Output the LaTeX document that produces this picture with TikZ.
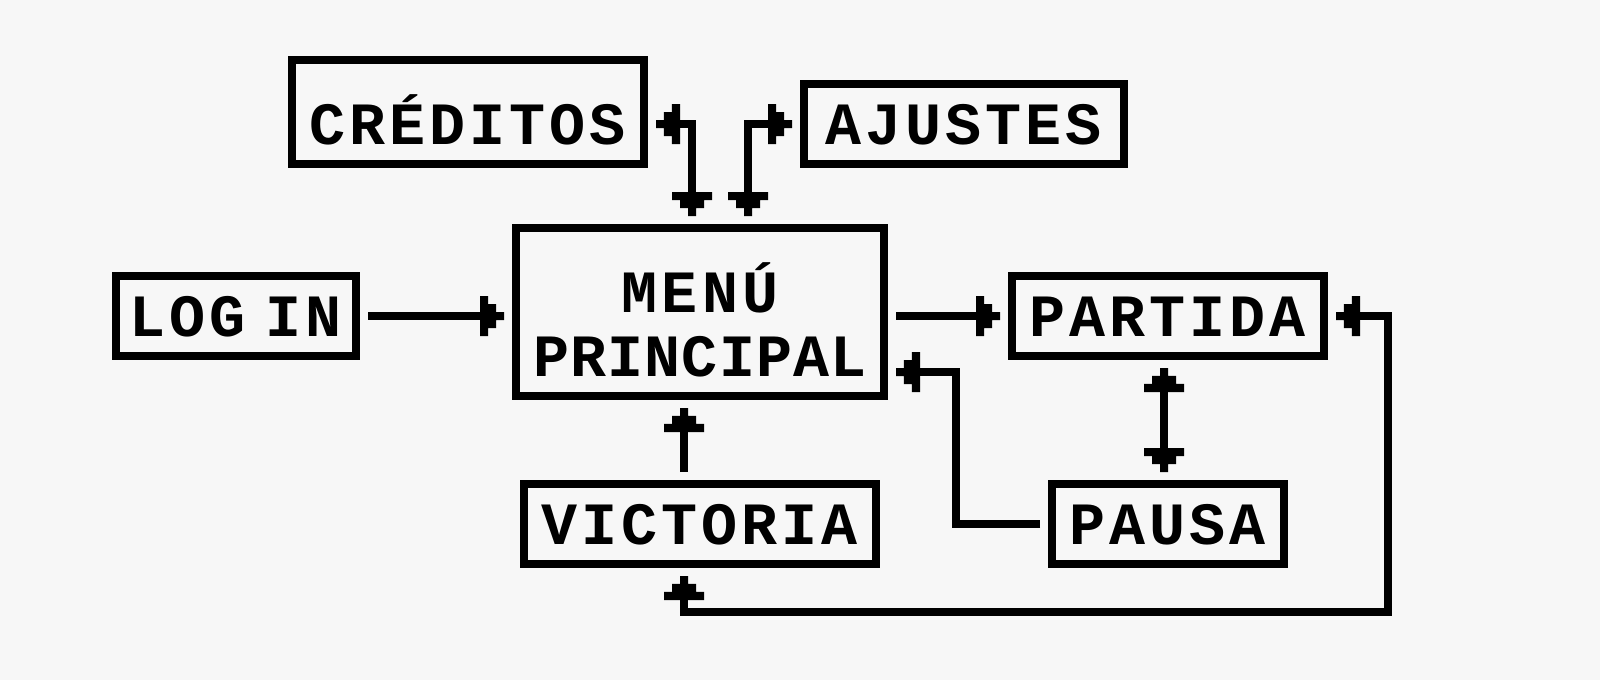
\documentclass[tikz,border=0pt]{standalone}
\usepackage{fontspec}
\newfontfamily\pixfont[LetterSpace=6.7]{Liberation Mono}
\usetikzlibrary{arrows.meta}
\definecolor{bgc}{HTML}{F7F7F7}
\newlength\capht
\setlength\capht{20pt}
\newdimen\pixp
\newcommand\boxtxt[2][0pt]{\raisebox{\dimexpr-0.5\capht+#1\relax}[0pt][0pt]{#2}}

\pgfdeclarearrow{
  name = Pix,
  setup code = {
    \pixp=\pgflinewidth
    \pgfarrowssettipend{0pt}
    \pgfarrowssetlineend{-1.5\pixp}
    \pgfarrowssetvisualbackend{-3\pixp}
    \pgfarrowssetbackend{-3\pixp}
    \pgfarrowshullpoint{0pt}{0pt}
    \pgfarrowshullpoint{-3\pixp}{2.5\pixp}
    \pgfarrowshullpoint{-3\pixp}{-2.5\pixp}
    \pgfarrowssavethe\pixp
  },
  drawing code = {
    \pgfpathrectangle{\pgfqpoint{-3\pixp}{-2.5\pixp}}{\pgfqpoint{1.02\pixp}{5\pixp}}
    \pgfpathrectangle{\pgfqpoint{-2\pixp}{-1.5\pixp}}{\pgfqpoint{1.02\pixp}{3\pixp}}
    \pgfpathrectangle{\pgfqpoint{-1\pixp}{-.5\pixp}}{\pgfqpoint{1\pixp}{1\pixp}}
    \pgfusepathqfill
  },
}

\tikzset{
  pixbox/.style={draw=black, line width=4pt, inner sep=0pt, outer sep=2pt,
    font=\pixfont\bfseries\fontsize{30}{32}\selectfont, minimum height=40pt},
  conn/.style={draw=black, line width=4pt, line cap=butt, line join=miter,
    shorten <=4pt, shorten >=4pt},
}

\begin{document}
\begin{tikzpicture}[x=0.5pt, y=-0.5pt]
\fill[bgc] (0,0) rectangle (1600,680);
\useasboundingbox (0,0) rectangle (1600,680);

% boxes
\node[pixbox, minimum width=176pt, minimum height=52pt] (cred) at (468,112)
  {\boxtxt[-6pt]{CRÉDITOS}};
\node[pixbox, minimum width=160pt] (ajus) at (964,124) {\boxtxt{AJUSTES}};
\node[pixbox, minimum width=120pt] (login) at (236,316) {\boxtxt{LOG\hspace{-10pt} IN}};
\node[pixbox, minimum width=184pt, minimum height=84pt] (menu) at (700,312)
  {\raisebox{-32pt}[0pt][0pt]{\begin{tabular}[b]{@{}c@{}}MENÚ\\{\addfontfeature{LetterSpace=2}PRINCIPAL}\end{tabular}}};
\node[pixbox, minimum width=156pt] (partida) at (1168,316) {\boxtxt{PARTIDA}};
\node[pixbox, minimum width=176pt] (vic) at (700,524) {\boxtxt{VICTORIA}};
\node[pixbox, minimum width=116pt] (pausa) at (1168,524) {\boxtxt{PAUSA}};

% helper corners
\coordinate (pc) at (956,372);
\coordinate (lc) at (1388,612);

% connectors
\draw[conn, -Pix] (login.east) -- (menu.west |- login.east);
\draw[conn, -Pix] (menu.east |- partida.west) -- (partida.west);
\draw[conn, -Pix] (pausa.west) -| (pc) -- (menu.east |- pc);
\draw[conn, Pix-Pix] ([xshift=-2pt]partida.south) -- ([xshift=-2pt]pausa.north);
\draw[conn, -Pix] ([xshift=-8pt]vic.north) -- ([xshift=-8pt]menu.south);
\draw[conn, Pix-Pix] ([xshift=-8pt]vic.south) |- (lc) |- (partida.east);
\draw[conn, Pix-Pix] ([xshift=-4pt]menu.north) |- ([yshift=-6pt]cred.east);
\draw[conn, Pix-Pix] ([xshift=24pt]menu.north) |- (ajus.west);
\end{tikzpicture}
\end{document}
